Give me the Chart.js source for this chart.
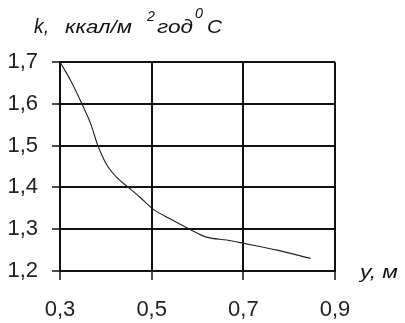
<!DOCTYPE html>
<html>
<head>
<meta charset="utf-8">
<script src="https://cdn.jsdelivr.net/npm/chart.js@4.4.1/dist/chart.umd.min.js"></script>
<style>
html,body{margin:0;padding:0;background:#fff;}
#wrap{width:405px;height:323px;position:relative;}
</style>
</head>
<body>
<div id="wrap"><canvas id="c" width="405" height="323"></canvas></div>
<script>
// Data
const yValues = [0.3, 0.3235, 0.349, 0.367, 0.382, 0.400, 0.422, 0.448, 0.474, 0.503, 0.540, 0.583, 0.620, 0.664, 0.702, 0.774, 0.847];
const kValues = [1.70, 1.655, 1.597, 1.552, 1.502, 1.458, 1.426, 1.401, 1.377, 1.348, 1.325, 1.300, 1.281, 1.274, 1.266, 1.250, 1.230];
const xTicks = [0.3, 0.5, 0.7, 0.9];
const yTicks = [1.2, 1.3, 1.4, 1.5, 1.6, 1.7];
const titleParts = ["k,", "ккал/м", "2", "год", "0", "C"];
const xAxisTitle = "y, м";

const FONT = '"Liberation Sans", Arial, sans-serif';
const fmt = v => v.toFixed(1).replace('.', ',');

function fitText(ctx, text, x, baseline, width, size) {
  ctx.save();
  ctx.font = 'italic ' + size + 'px ' + FONT;
  const w = ctx.measureText(text).width;
  ctx.translate(x, baseline);
  ctx.scale(width / w, 1);
  ctx.textBaseline = 'alphabetic';
  ctx.textAlign = 'left';
  ctx.fillStyle = '#111';
  ctx.fillText(text, 0, 0);
  ctx.restore();
}

const labelsPlugin = {
  id: 'labels',
  afterDraw(chart) {
    const ctx = chart.ctx;
    fitText(ctx, titleParts[0], 34, 33, 15, 20);
    fitText(ctx, titleParts[1], 65, 33, 67, 19);
    fitText(ctx, titleParts[2], 147, 21, 8, 14);
    fitText(ctx, titleParts[3], 157, 33, 36, 19);
    fitText(ctx, titleParts[4], 195, 18, 8, 14);
    fitText(ctx, titleParts[5], 207, 33, 15, 19);
    fitText(ctx, xAxisTitle, 360, 278, 38, 19);
  }
};

new Chart(document.getElementById('c'), {
  type: 'line',
  data: {
    datasets: [{
      data: yValues.map((v, i) => ({x: v, y: kValues[i]})),
      borderColor: '#222',
      borderWidth: 1.1,
      pointRadius: 0,
      fill: false,
      cubicInterpolationMode: 'monotone'
    }]
  },
  options: {
    responsive: false,
    animation: false,
    layout: {padding: {top: 62, right: 70, left: 0, bottom: 0}},
    plugins: {legend: {display: false}, tooltip: {enabled: false}},
    scales: {
      x: {
        type: 'linear',
        min: 0.3, max: 0.9,
        afterBuildTicks: s => { s.ticks = xTicks.map(v => ({value: v})); },
        afterFit: s => { s.height = 52; },
        grid: {color: '#111', lineWidth: 2, tickLength: 9, tickColor: '#111', tickWidth: 1.5},
        border: {color: '#111', width: 2},
        ticks: {font: {family: FONT, size: 22}, color: '#222', padding: 17, maxRotation: 0, callback: v => fmt(v)}
      },
      y: {
        type: 'linear',
        min: 1.2, max: 1.7,
        afterBuildTicks: s => { s.ticks = yTicks.map(v => ({value: v})); },
        afterFit: s => { s.width = 60; },
        grid: {color: '#111', lineWidth: 2, tickLength: 8, tickColor: '#111', tickWidth: 1.5},
        border: {color: '#111', width: 2},
        ticks: {font: {family: FONT, size: 22}, color: '#222', padding: 14, callback: v => fmt(v)}
      }
    }
  },
  plugins: [labelsPlugin]
});
</script>
</body>
</html>
